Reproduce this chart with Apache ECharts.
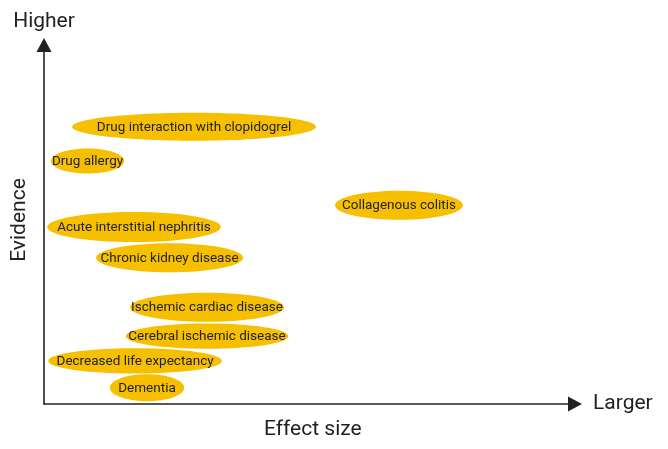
<!DOCTYPE html>
<html>
<head>
<meta charset="utf-8">
<script src="https://cdn.jsdelivr.net/npm/echarts@6/dist/echarts.min.js"></script>
<style>html,body{margin:0;padding:0;background:#fff;}#c{width:668px;height:449px;}</style>
</head>
<body>
<div id="c"></div>
<script>
var labels = ["Drug interaction with clopidogrel","Drug allergy","Collagenous colitis","Acute interstitial nephritis","Chronic kidney disease","Ischemic cardiac disease","Cerebral ischemic disease","Decreased life expectancy","Dementia"];
var effectLow  = [5.3, 1.3, 54.8, 0.6, 9.8, 16.2, 15.4, 0.8, 12.4];
var effectHigh = [51.2, 15.1, 78.9, 33.3, 37.5, 45.2, 46.0, 33.5, 26.4];
var evidenceLow  = [73.3, 64.2, 51.3, 45.1, 36.7, 22.9, 15.4, 8.5, 0.8];
var evidenceHigh = [81.1, 71.2, 59.4, 53.5, 44.8, 31.0, 22.4, 15.5, 8.3];

var data = labels.map(function(l,i){return [effectLow[i], effectHigh[i], evidenceLow[i], evidenceHigh[i], l];});

var chart = echarts.init(document.getElementById('c'));
var FONT = "'Roboto','Liberation Sans',sans-serif";
chart.setOption({
  animation:false,
  grid:{left:44,right:93,top:45,bottom:45},
  xAxis:{type:'value',min:0,max:100,
    name:'Larger',nameLocation:'end',nameGap:18,
    nameTextStyle:{fontFamily:"'Roboto',sans-serif",fontSize:21,color:'#222',align:'left',verticalAlign:'middle'},
    axisLine:{show:true,symbol:['none','triangle'],symbolSize:[15,14],lineStyle:{color:'#222',width:1.6}},
    axisTick:{show:false},axisLabel:{show:false},splitLine:{show:false}},
  yAxis:{type:'value',min:0,max:100,
    name:'Higher',nameLocation:'end',nameGap:13,
    nameTextStyle:{fontFamily:"'Roboto',sans-serif",fontSize:21,color:'#222',align:'center',verticalAlign:'bottom'},
    axisLine:{show:true,symbol:['none','triangle'],symbolSize:[15,14],lineStyle:{color:'#222',width:1.6}},
    axisTick:{show:false},axisLabel:{show:false},splitLine:{show:false}},
  graphic:[
    {type:'text',left:264,top:419,style:{text:'Effect size',font:"21px Roboto, sans-serif",fill:'#222'}},
    {type:'text',x:20,y:220,rotation:Math.PI/2,style:{text:'Evidence',font:"21px Roboto, sans-serif",fill:'#222',align:'center',verticalAlign:'middle'}}
  ],
  series:[{
    type:'custom',
    data:data,
    encode:{x:[0,1],y:[2,3]},
    renderItem:function(params,api){
      var p1 = api.coord([api.value(0), api.value(2)]);
      var p2 = api.coord([api.value(1), api.value(3)]);
      var cx=(p1[0]+p2[0])/2, cy=(p1[1]+p2[1])/2;
      var rx=Math.abs(p2[0]-p1[0])/2, ry=Math.abs(p2[1]-p1[1])/2;
      return {
        type:'group',
        children:[
          {type:'ellipse',shape:{cx:cx,cy:cy,rx:rx,ry:ry},style:{fill:'#F6C000'}},
          {type:'text',x:cx,y:cy+0.5,style:{text:api.value(4),fill:'#222',font:"13.5px "+FONT,align:'center',verticalAlign:'middle'}}
        ]
      };
    }
  }]
});
</script>
</body>
</html>
